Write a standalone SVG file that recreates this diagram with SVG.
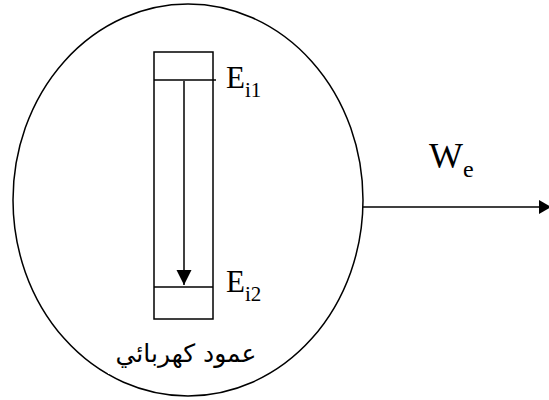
<svg xmlns="http://www.w3.org/2000/svg" width="549" height="400" viewBox="0 0 549 400">
<style>
.ln{stroke:#000;stroke-width:1.5;fill:none}
.t{font-family:"Liberation Serif","Times New Roman",serif;fill:#000}
.ar{font-family:"DejaVu Sans","Liberation Sans",sans-serif;fill:#000}
</style>
<defs>
<marker id="ah" markerWidth="13" markerHeight="14" refX="12" refY="7" orient="auto" markerUnits="userSpaceOnUse">
<path d="M0,0 L12,7 L0,14 Z" fill="#000"/>
</marker>
<marker id="ah2" markerWidth="16" markerHeight="16" refX="15" refY="7.5" orient="auto" markerUnits="userSpaceOnUse">
<path d="M0,0 L15,7.5 L0,15 Z" fill="#000"/>
</marker>
</defs>
<g id="system">
<ellipse class="ln" cx="188" cy="200" rx="175" ry="196"/>
</g>
<g id="column">
<rect class="ln" x="154" y="52" width="59" height="267"/>
<line class="ln" x1="154" y1="80" x2="216" y2="80"/>
<line class="ln" x1="154" y1="287" x2="213" y2="287"/>
<text class="t" x="226" y="88" font-size="31">E<tspan font-size="21" dy="9">i1</tspan></text>
<text class="t" x="226" y="292" font-size="31">E<tspan font-size="21" dy="9">i2</tspan></text>
</g>
<g id="label">
<rect x="108" y="336" width="153" height="38" fill="#fff"/>
<text class="ar" x="186" y="362" font-size="25" text-anchor="middle" direction="rtl">عمود كهربائي</text>
</g>
<g id="work">
<text class="t" x="429" y="168" font-size="36">W<tspan font-size="24" dy="9">e</tspan></text>
</g>
<g id="connectors">
<line class="ln" x1="184" y1="81" x2="184" y2="285" marker-end="url(#ah2)"/>
<line class="ln" x1="363" y1="207" x2="551" y2="207" marker-end="url(#ah)"/>
</g>
</svg>
